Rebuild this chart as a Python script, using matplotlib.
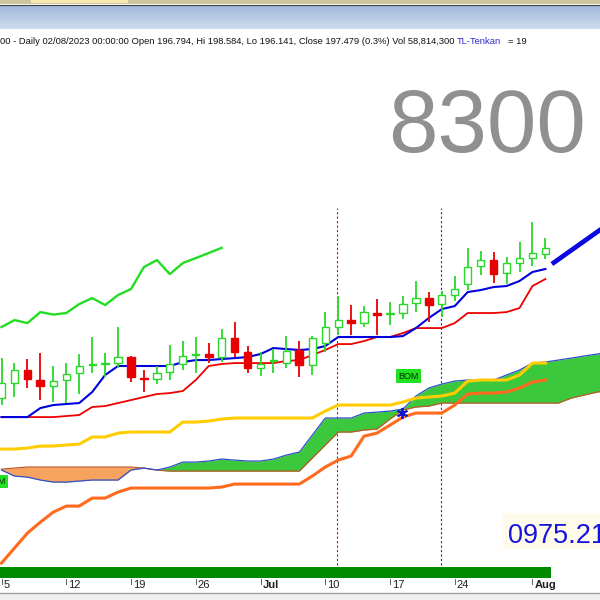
import numpy as np
import matplotlib
matplotlib.use("Agg")
import matplotlib.pyplot as plt
from matplotlib import font_manager
from matplotlib.patches import Rectangle
from matplotlib.transforms import blended_transform_factory

# ---- daily candles, 05 Jun .. 02 Aug 2023 (one slot per trading day) ----
opens = [180.01, 181.76, 183.27, 182.11, 181.41, 182.11, 182.92, 183.85, 183.97, 184.08,
         184.78, 182.40, 182.22, 183.04, 183.97, 185.07, 185.13, 184.78, 186.99, 185.36,
         183.50, 184.37, 184.08, 185.60, 183.85, 186.41, 188.27, 189.08, 188.73, 189.90,
         189.84, 189.90, 191.06, 191.64, 190.94, 191.99, 193.27, 195.36, 196.06, 194.55,
         195.71, 196.29, 196.794]
highs = [184.66, 184.08, 184.55, 185.25, 183.74, 184.08, 185.13, 187.11, 185.25, 188.27,
         184.90, 183.27, 183.74, 186.18, 186.64, 187.11, 186.41, 188.04, 188.85, 186.06,
         185.36, 185.71, 187.22, 186.64, 187.22, 190.01, 191.88, 190.83, 190.71, 191.53,
         191.18, 191.88, 193.62, 192.34, 192.46, 194.20, 197.46, 197.11, 196.99, 196.41,
         198.16, 200.48, 198.584]
lows = [179.20, 180.13, 181.18, 179.78, 179.55, 179.43, 180.48, 182.92, 182.45, 183.50,
        181.87, 180.71, 181.64, 182.11, 183.27, 182.92, 184.08, 184.20, 184.78, 182.92,
        182.57, 182.92, 183.50, 182.45, 182.69, 185.36, 187.34, 187.34, 188.27, 187.34,
        188.50, 189.20, 190.01, 188.85, 189.43, 191.29, 192.57, 194.32, 193.39, 193.27,
        194.67, 195.36, 196.141]
closes = [181.76, 183.27, 182.22, 181.41, 181.99, 182.80, 183.74, 183.97, 184.08, 184.78,
          182.45, 182.28, 182.92, 183.97, 184.90, 185.13, 184.78, 186.99, 185.36, 183.50,
          183.97, 184.43, 185.48, 183.85, 186.99, 188.27, 189.08, 188.73, 190.01, 189.72,
          189.90, 190.94, 191.64, 190.83, 191.99, 192.69, 195.25, 196.06, 194.43, 195.71,
          196.29, 196.88, 197.479]

tenkan = [177.80, 177.80, 177.80, 178.85, 179.20, 179.32, 179.43, 180.71, 182.69, 183.74,
          183.74, 183.74, 183.74, 183.74, 184.20, 184.43, 184.43, 184.55, 184.66, 184.78,
          185.13, 185.83, 185.71, 185.60, 185.71, 186.06, 187.11, 187.11, 187.11, 187.11,
          187.11, 187.22, 188.15, 189.32, 190.36, 190.71, 192.34, 192.57, 192.92, 193.04,
          193.62, 194.67, 195.02]
kijun = [177.80, 177.80, 177.80, 177.80, 177.80, 177.92, 178.04, 178.97, 179.08, 179.43,
         179.78, 180.13, 180.48, 180.59, 180.83, 182.11, 183.74, 183.97, 184.08, 184.08,
         184.08, 184.08, 184.32, 184.43, 185.01, 185.60, 186.29, 186.29, 186.64, 187.11,
         187.11, 187.57, 188.15, 188.15, 188.15, 188.73, 189.90, 189.90, 189.90, 190.01,
         190.48, 193.04, 193.85]
# cloud runs a few slots past the last candle
span_a = [171.64, 170.94, 170.82, 170.48, 170.24, 170.24, 170.36, 170.48, 170.48, 170.48,
          171.64, 171.87, 171.64, 171.99, 172.57, 172.57, 172.69, 172.92, 172.80, 172.69,
          172.69, 172.92, 173.38, 173.73, 175.71, 177.69, 177.69, 177.69, 178.27, 178.38,
          178.50, 178.73, 180.25, 181.18, 181.64, 181.99, 182.11, 182.11, 182.11, 182.69,
          183.27, 184.08, 184.20, 184.43, 184.66, 184.90, 185.13, 185.36]
span_b = [171.75, 171.87, 171.99, 171.99, 171.99, 171.99, 171.99, 171.99, 171.99, 171.99,
          171.99, 171.87, 171.64, 171.52, 171.52, 171.52, 171.52, 171.52, 171.52, 171.52,
          171.52, 171.52, 171.52, 171.52, 173.04, 174.55, 176.06, 176.06, 176.29, 176.41,
          177.57, 178.62, 178.97, 179.08, 179.43, 179.43, 179.43, 179.43, 179.43, 179.43,
          179.43, 179.43, 179.43, 179.43, 180.01, 180.36, 180.71, 180.94]
yellow_line = [174.08, 174.08, 174.20, 174.43, 174.43, 174.55, 174.66, 175.48, 175.48, 175.94,
               176.06, 176.06, 176.06, 176.06, 177.22, 177.22, 177.34, 177.57, 177.69, 177.69,
               177.69, 177.69, 177.69, 177.69, 177.69, 178.50, 179.20, 179.20, 179.20, 179.20,
               179.20, 179.55, 180.01, 180.13, 180.25, 180.59, 181.99, 182.11, 182.11, 182.11,
               182.69, 184.08, 184.08]
orange_line = [160.82, 162.57, 164.31, 165.58, 166.75, 167.45, 167.45, 168.38, 168.38, 169.08,
               169.55, 169.55, 169.55, 169.55, 169.55, 169.55, 169.55, 169.66, 170.01, 170.01,
               170.01, 170.01, 170.01, 170.01, 170.94, 171.99, 172.80, 173.27, 175.59, 175.94,
               176.87, 177.80, 178.27, 178.27, 178.27, 179.20, 180.48, 180.59, 180.59, 180.71,
               181.18, 181.87, 182.11]
chikou_shift = 25

proj_x = [42.5, 47.0]
proj_y = [195.6, 200.4]

tick_pos = [0, 5, 10, 15, 20, 25, 30, 35, 41]
tick_labels = ["5", "12", "19", "26", "Jul", "10", "17", "24", "Aug"]
month_labels = ["Jul", "Aug"]

red_vline_day = 26
blue_vline_day = 34
star_day, star_price = 31, 178.3
bom_day, bom_price = 31.4, 182.57
bom_left_day, bom_left_price = 0.3, 170.33
signal_bar_end = 42.4

header = "00 - Daily 02/08/2023 00:00:00 Open 196.794, Hi 198.584, Lo 196.141, Close 197.479 (0.3%) Vol 58,814,300"

names = {f.name for f in font_manager.fontManager.ttflist}
narrow = next((n for n in ["Liberation Sans Narrow", "Arial Narrow"] if n in names), "Liberation Sans")
plain = "Liberation Sans"

W = H = 600
fx = lambda p: p / W          # pixel column -> figure fraction
fy = lambda p: 1 - p / H      # pixel row -> figure fraction

fig = plt.figure(figsize=(6, 6), dpi=100)
fig.patch.set_facecolor("white")

ax = fig.add_axes([0, 0, 1, 1])
ax.set_xlim(-0.116, 46.216)
ax.set_ylim(156.53, 226.30)
ax.axis("off")

n = len(closes)
idx = np.arange(n)
cidx = np.arange(len(span_a))
sa = np.array(span_a)
sb = np.array(span_b)

# cloud
ax.fill_between(cidx, sa, sb, where=sa >= sb, interpolate=True, color="#3cc83c", lw=0, zorder=2)
ax.fill_between(cidx, sa, sb, where=sa < sb, interpolate=True, color="#f5a35f", lw=0, zorder=2)
ax.plot(cidx, sb, color="#c0582a", lw=0.9, zorder=2.5)
ax.plot(cidx, sa, color="#2f4fc8", lw=0.9, zorder=2.6)

ax.plot(idx, yellow_line, color="#ffcc00", lw=2.2, zorder=3)
ax.plot(idx, orange_line, color="#ff6a1e", lw=2.2, zorder=3)
ax.plot(idx, kijun, color="#ee0000", lw=1.3, zorder=4)
ax.plot(idx, tenkan, color="#0000dd", lw=1.5, zorder=4.2)
ax.plot(idx[:n - chikou_shift], closes[chikou_shift:], color="#22dd22", lw=1.7, zorder=4)
ax.plot(proj_x, proj_y, color="#0a0ae0", lw=3.4, solid_capstyle="butt", zorder=4)

# dotted markers
ax.axvline(red_vline_day - 0.07, ymin=fy(565), ymax=fy(208), color="#e00000", lw=0.8, ls=(0, (2, 2)), zorder=1)
ax.axvline(blue_vline_day - 0.08, ymin=fy(565), ymax=fy(208), color="#2020e0", lw=0.8, ls=(0, (2, 2)), zorder=1)

# candles
o = np.array(opens); c = np.array(closes)
up = c >= o
col = np.where(up, "#2ad82a", "#e80000")
ax.vlines(idx, lows, highs, colors=col, lw=1.3, zorder=5)
bottoms = np.minimum(o, c)
heights = np.maximum(np.abs(c - o), 0.08)
ax.bar(idx[up], heights[up], bottom=bottoms[up], width=0.56, facecolor="white",
       edgecolor="#2ad82a", lw=1.0, zorder=6)
ax.bar(idx[~up], heights[~up], bottom=bottoms[~up], width=0.6, facecolor="#e80000",
       edgecolor="#e80000", lw=1.0, zorder=6)

ax.plot([star_day - 0.05], [star_price], marker=(6, 2, 0), ms=8, mew=1.3, color="#1010d0", zorder=7)

ax.text(bom_day, bom_price, "BOM", fontsize=6.5, family=plain, color="#0a300a", ha="center", va="center",
        bbox=dict(boxstyle="square,pad=0.25", fc="#22e022", ec="none"), zorder=8)
ax.text(bom_left_day, bom_left_price, "BOM", fontsize=6.5, family=plain, color="#0a300a", ha="right", va="center",
        bbox=dict(boxstyle="square,pad=0.25", fc="#22e022", ec="none"), zorder=8)

# signal bar at bottom
bt = blended_transform_factory(ax.transData, ax.transAxes)
ax.add_patch(Rectangle((-1, fy(578)), signal_bar_end + 1, 11 / H, transform=bt,
                       facecolor="#008a00", edgecolor="none", zorder=3))

# date axis
for p, lab in zip(tick_pos, tick_labels):
    ax.plot([p, p], [fy(579), fy(584)], transform=bt, color="#606060", lw=0.7, clip_on=False)
    ax.text(p + 0.15, fy(585), lab, transform=bt, fontsize=8, family=plain, va="center", ha="left",
            fontweight="bold" if lab in month_labels else "normal", color="#202020")
fig.add_artist(Rectangle((0, 0), 1, 7 / H, transform=fig.transFigure, fc="#f0f0f0", ec="none"))
fig.add_artist(plt.Line2D([0, 1], [fy(593), fy(593)], transform=fig.transFigure, color="#a0a0a0", lw=1))

# big watermark numbers
fig.text(fx(487), fy(152), "8300", fontsize=64, family=narrow, color="#909090", ha="center", va="baseline", zorder=0)
fig.add_artist(Rectangle((fx(503), fy(549)), fx(97), 36 / H, transform=fig.transFigure, fc="#fffbea", ec="none"))
fig.text(fx(508), fy(543), "0975.21", fontsize=19.5, family=narrow, color="#1414dc", ha="left", va="baseline")

# window chrome at top
fig.add_artist(Rectangle((0, fy(4)), 1, 4 / H, transform=fig.transFigure, fc="#cfc3a0", ec="none"))
fig.add_artist(Rectangle((fx(31), fy(3)), fx(97), 3 / H, transform=fig.transFigure, fc="#f7e7b0", ec="none"))
fig.add_artist(plt.Line2D([0, 1], [fy(4.5), fy(4.5)], transform=fig.transFigure, color="#404040", lw=0.8))
band = fig.add_axes([0, fy(29), 1, 24 / H])
grad = np.linspace(0, 1, 24)[:, None, None]
c0 = np.array([0.62, 0.72, 0.85]); c1 = np.array([0.80, 0.86, 0.93])
band.imshow(c0 + (c1 - c0) * grad, aspect="auto", extent=(0, 1, 0, 1))
band.axis("off")

# header line, fitted to its on-screen width
t1 = fig.text(0, fy(44), header, fontsize=8, family=narrow, color="#111111", va="baseline")
r = fig.canvas.get_renderer()
size = 8 * 454 / t1.get_window_extent(r).width
t1.set_fontsize(size)
fig.text(fx(457), fy(44), "TL-Tenkan", fontsize=size, family=narrow, color="#2a2acc", va="baseline")
fig.text(fx(508), fy(44), "= 19", fontsize=size, family=narrow, color="#111111", va="baseline")

fig.savefig("out.png", dpi=100)
